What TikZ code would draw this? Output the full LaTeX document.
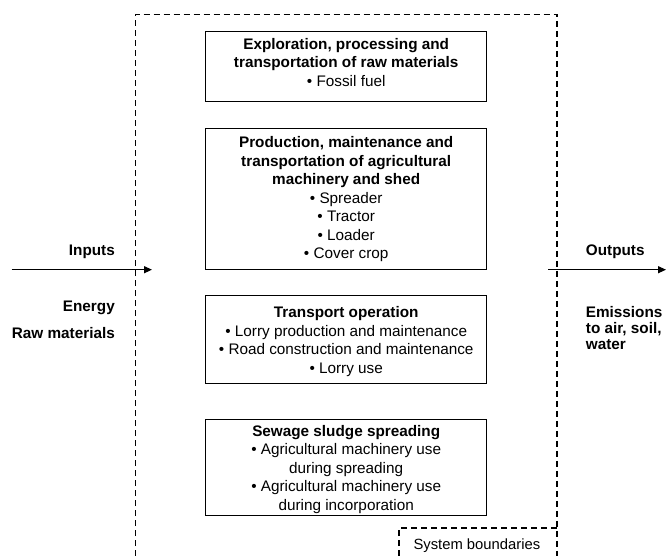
\documentclass[tikz,border=0pt]{standalone}
\usepackage{fontspec}
\setmainfont{Liberation Sans}
\usetikzlibrary{arrows.meta}
\tikzset{
  stagebox/.style={draw=black, line width=0.9pt, minimum width=281pt, inner sep=0pt},
  boxtext/.style={inner sep=0pt, align=center, font=\fontsize{15.3}{18.5}\selectfont},
  lab/.style={inner sep=0pt, font=\fontsize{15.3}{18.5}\selectfont\bfseries},
  boundary/.style={line width=1.2pt, dash pattern=on 6pt off 4pt},
  flow/.style={line width=1.2pt, -{Triangle[length=8pt,width=7pt]}}
}
\begin{document}
\begin{tikzpicture}[x=1pt,y=-1pt]
\useasboundingbox (0,0) rectangle (666,556);
% system boundary
\coordinate (bl) at (135.3,556);
\coordinate (tl) at (135.3,14.3);
\coordinate (tr) at (557,14.3);
\coordinate (br) at (557,556);
\draw[boundary] (bl) -- (tl) -- (tr) -- (br);
\coordinate (sbl) at (399,556);
\coordinate (stl) at (399,528);
\coordinate (str) at (557,528);
\draw[boundary] (sbl) -- (stl) -- (str);
\node[inner sep=0pt, anchor=base west, font=\fontsize{14.8}{17}\selectfont] (sys) at (413.3,549.3) {System boundaries};
% stage boxes
\node[stagebox, minimum height=70pt] (b1) at (346.2,66.7) {};
\node[boxtext] (t1) at ([yshift=4.5pt]b1.center) {\textbf{Exploration, processing and}\\\textbf{transportation of raw materials}\\• Fossil fuel};
\node[stagebox, minimum height=141pt] (b2) at (346.2,198.5) {};
\node[boxtext] (t2) at ([yshift=-1pt]b2.center) {\textbf{Production, maintenance and}\\\textbf{transportation of agricultural}\\\textbf{machinery and shed}\\• Spreader\\• Tractor\\• Loader\\• Cover crop};
\node[stagebox, minimum height=87.3pt] (b3) at (346.2,339.3) {};
\node[boxtext] (t3) at ([yshift=-2pt]b3.center) {\textbf{Transport operation}\\• Lorry production and maintenance\\• Road construction and maintenance\\• Lorry use};
\node[stagebox, minimum height=96.4pt] (b4) at (346.2,467.5) {};
\node[boxtext] (t4) at ([yshift=-2pt]b4.center) {\textbf{Sewage sludge spreading}\\• Agricultural machinery use\\during spreading\\• Agricultural machinery use\\during incorporation};
% inputs
\node[lab, anchor=base east] (inp) at (115,255) {Inputs};
\node[lab, anchor=base east] (energy) at (115,311) {Energy};
\node[lab, anchor=base east] (raw) at (115,338) {Raw materials};
\coordinate (inA) at (11.7,269.7);
\coordinate (inB) at (152,269.7);
\draw[flow] (inA) -- (inB);
% outputs
\node[lab, anchor=base west] (outp) at (585.7,255) {Outputs};
\node[lab, anchor=base west] (emis) at (585.7,317) {\fontsize{15.3}{16}\selectfont\begin{tabular}[t]{@{}l@{}}Emissions\\to air, soil,\\water\end{tabular}};
\coordinate (outA) at (548,269.7);
\coordinate (outB) at (666,269.7);
\draw[flow] (outA) -- (outB);
\end{tikzpicture}
\end{document}
